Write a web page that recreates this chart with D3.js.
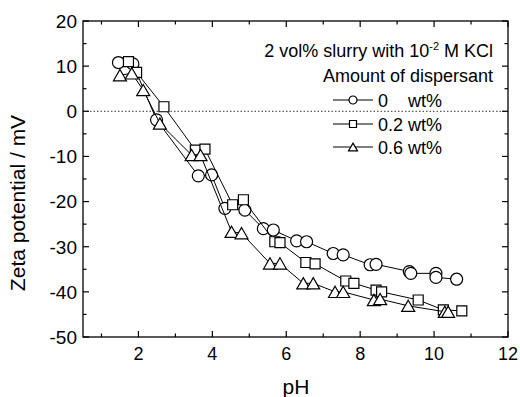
<!DOCTYPE html>
<html>
<head>
<meta charset="utf-8">
<script src="https://cdn.jsdelivr.net/npm/d3@7"></script>
<style>
  body { margin: 0; background: #fff; }
  svg { display: block; font-family: "Liberation Sans", Arial, sans-serif; }
</style>
</head>
<body>
<svg id="chart" width="520" height="397"></svg>
<script>
// values: pH and zeta potential (mV)
var phNone = [1.46, 1.85, 2.49, 3.62, 3.98, 4.34, 4.88, 5.38, 5.65, 6.28, 6.55, 7.27, 7.54, 8.27, 8.43, 9.33, 9.37, 10.05, 10.05, 10.61]
var zetaNone = [10.8, 10.5, -1.9, -14.3, -14.1, -21.5, -21.9, -26.0, -26.3, -28.7, -28.9, -31.5, -31.8, -34.0, -33.9, -35.5, -35.9, -35.9, -36.8, -37.2]

var phLow = [1.73, 1.95, 2.69, 3.54, 3.80, 4.55, 4.84, 5.69, 5.83, 6.53, 6.78, 7.61, 7.83, 8.43, 8.58, 9.57, 10.25, 10.75]
var zetaLow = [11.0, 8.6, 1.0, -8.6, -8.4, -20.7, -19.6, -28.9, -29.1, -33.5, -33.8, -37.6, -38.1, -39.6, -40.0, -41.8, -44.0, -44.2]

var phHigh = [1.50, 1.82, 2.13, 2.58, 3.44, 3.68, 4.52, 4.79, 5.56, 5.83, 6.46, 6.73, 7.32, 7.54, 8.37, 8.54, 9.30, 10.29, 10.38]
var zetaHigh = [8.0, 8.4, 4.7, -2.7, -9.7, -9.7, -26.7, -27.0, -33.7, -33.7, -38.1, -38.1, -40.0, -40.0, -41.8, -41.6, -43.1, -44.4, -44.4]

var seriesNames = ['0    wt%', '0.2 wt%', '0.6 wt%']
var xTicks = [2, 4, 6, 8, 10, 12]
var yTicks = [20, 10, 0, -10, -20, -30, -40, -50]

var svg = d3.select('#chart')
var plotLeft = 83, plotRight = 508, plotTop = 21, plotBottom = 337

var x = d3.scaleLinear().domain([0.5, 12]).range([plotLeft, plotRight])
var y = d3.scaleLinear().domain([-50, 20]).range([plotBottom, plotTop])

// marker shapes
function markerPath(kind, s) {
  if (kind == 'circle') return d3.symbol(d3.symbolCircle, Math.PI * s * s)()
  if (kind == 'square') return 'M' + (-s) + ',' + (-s) + 'h' + 2 * s + 'v' + 2 * s + 'h' + (-2 * s) + 'Z'
  var h = s * 1.73
  return 'M0,' + (-h / 2) + 'L' + s + ',' + (h / 2) + 'L' + (-s) + ',' + (h / 2) + 'Z'
}

// frame
svg.append('rect')
  .attr('x', plotLeft).attr('y', plotTop)
  .attr('width', plotRight - plotLeft).attr('height', plotBottom - plotTop)
  .attr('fill', 'none').attr('stroke', '#000').attr('stroke-width', 1.3)

// zero line
svg.append('line')
  .attr('x1', plotLeft).attr('x2', plotRight)
  .attr('y1', y(0)).attr('y2', y(0))
  .attr('stroke', '#333').attr('stroke-width', 1)
  .attr('stroke-dasharray', '1.5,2')

// ticks (inward, mirrored)
var xMinor = d3.range(1, 12, 1).filter(function(d) { return xTicks.indexOf(d) < 0 })
var yMinor = d3.range(-45, 20, 5).filter(function(d) { return yTicks.indexOf(d) < 0 })
var g = svg.append('g').attr('stroke', '#000').attr('stroke-width', 1.2)

xTicks.concat(xMinor).forEach(function(d) {
  var len = xTicks.indexOf(d) >= 0 ? 6 : 3.5
  g.append('line').attr('x1', x(d)).attr('x2', x(d)).attr('y1', plotBottom).attr('y2', plotBottom - len)
  g.append('line').attr('x1', x(d)).attr('x2', x(d)).attr('y1', plotTop).attr('y2', plotTop + len)
})
yTicks.concat(yMinor).forEach(function(d) {
  var len = yTicks.indexOf(d) >= 0 ? 6 : 3.5
  g.append('line').attr('y1', y(d)).attr('y2', y(d)).attr('x1', plotLeft).attr('x2', plotLeft + len)
  g.append('line').attr('y1', y(d)).attr('y2', y(d)).attr('x1', plotRight).attr('x2', plotRight - len)
})

svg.append('g').selectAll('text')
  .data(xTicks)
  .enter()
  .append('text')
  .attr('x', function(d) { return x(d) })
  .attr('y', 360)
  .attr('text-anchor', 'middle')
  .attr('font-size', 18)
  .text(function(d) { return d })

svg.append('g').selectAll('text')
  .data(yTicks)
  .enter()
  .append('text')
  .attr('x', 77)
  .attr('y', function(d) { return y(d) })
  .attr('dy', '0.36em')
  .attr('text-anchor', 'end')
  .attr('font-size', 19)
  .text(function(d) { return d })

// axis titles
svg.append('text')
  .attr('x', 296).attr('y', 394)
  .attr('text-anchor', 'middle')
  .attr('font-size', 21)
  .text('pH')

svg.append('text')
  .attr('transform', 'translate(25,203) rotate(-90)')
  .attr('text-anchor', 'middle')
  .attr('font-size', 21)
  .text('Zeta potential / mV')

// series
var series = [
  { ph: phNone, zeta: zetaNone, kind: 'circle', size: 6 },
  { ph: phLow, zeta: zetaLow, kind: 'square', size: 5 },
  { ph: phHigh, zeta: zetaHigh, kind: 'triangle', size: 6.5 }
]

var line = d3.line()
  .x(function(d) { return x(d[0]) })
  .y(function(d) { return y(d[1]) })

series.forEach(function(s) {
  var pts = s.ph.map(function(p, i) { return [p, s.zeta[i]] })
  svg.append('path')
    .attr('d', line(pts))
    .attr('fill', 'none')
    .attr('stroke', '#000')
    .attr('stroke-width', 1)
  svg.append('g').selectAll('path')
    .data(pts)
    .enter()
    .append('path')
    .attr('transform', function(d) { return 'translate(' + x(d[0]) + ',' + y(d[1]) + ')' })
    .attr('d', markerPath(s.kind, s.size))
    .attr('fill', '#fff')
    .attr('stroke', '#000')
    .attr('stroke-width', 1.2)
})

// legend
var title = svg.append('text')
  .attr('x', 493).attr('y', 57)
  .attr('text-anchor', 'end')
  .attr('font-size', 18)
title.append('tspan').text('2 vol% slurry with 10')
title.append('tspan').attr('font-size', 11).attr('dy', -7).text('-2')
title.append('tspan').attr('dy', 7).text(' M KCl')

svg.append('text')
  .attr('x', 493).attr('y', 82)
  .attr('text-anchor', 'end')
  .attr('font-size', 18)
  .text('Amount of dispersant')

var legendY = [100, 124, 147]
var legendSize = [4, 3.5, 4.5]
series.forEach(function(s, i) {
  var row = svg.append('g').attr('transform', 'translate(0,' + legendY[i] + ')')
  row.append('line')
    .attr('x1', 333).attr('x2', 373)
    .attr('stroke', '#000').attr('stroke-width', 1)
  row.append('path')
    .attr('transform', 'translate(353,0)')
    .attr('d', markerPath(s.kind, legendSize[i]))
    .attr('fill', '#fff').attr('stroke', '#000').attr('stroke-width', 1.2)
  row.append('text')
    .attr('x', 378).attr('y', 6.5)
    .attr('font-size', 18)
    .attr('xml:space', 'preserve')
    .style('white-space', 'pre')
    .text(seriesNames[i])
})
</script>
</body>
</html>
